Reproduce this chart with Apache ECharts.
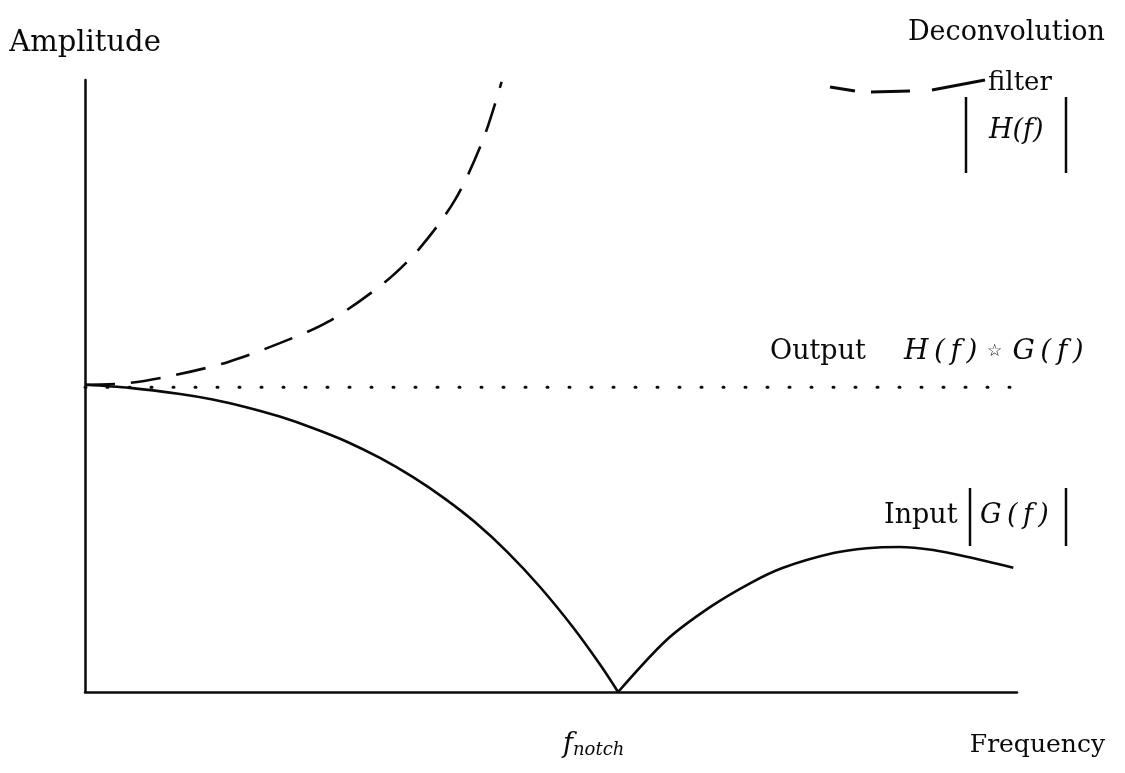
<!DOCTYPE html>
<html lang="en">
<head>
<meta charset="UTF-8">
<title>Deconvolution</title>
<script src="https://cdn.jsdelivr.net/npm/echarts@6.0.0/dist/echarts.min.js"></script>
<style>
  html, body { margin: 0; padding: 0; background: #fff; }
  #chart { width: 1125px; height: 773px; }
</style>
</head>
<body>
<div id="chart"></div>
<script>
// input |G(f)| (solid line); the notch sits at index notchIdx
var inputFreq = [0, 4.8, 10.2, 13.7, 17.4, 20.9, 24.5, 28.1, 31.7, 35.2, 38.6, 41.8, 45.3, 48.8, 52.4, 55.3, 57.2,
                 62.4, 67.1, 71.4, 74.9, 80.3, 83.9, 87.4, 91.0, 94.6, 99.6];
var inputAmp  = [50.2, 49.7, 48.7, 47.8, 46.5, 45.0, 43.1, 40.9, 38.2, 35.1, 31.6, 27.8, 22.9, 17.2, 10.5, 4.4, 0,
                 8.5, 13.9, 17.8, 20.3, 22.7, 23.5, 23.7, 23.2, 22.1, 20.3];
var notchIdx = 16;
// deconvolution filter |H(f)| (dashed)
var filterFreq = [0, 4.8, 9.7, 15.3, 20.9, 26.1, 32.2, 35.9, 39.7, 42.7, 44.7];
var filterAmp  = [50.2, 50.5, 51.8, 53.9, 57.0, 60.5, 67.0, 72.5, 80.4, 90.2, 99.7];
// output H(f)*G(f) (dotted, flat)
var outputFreq = [0, 99.8];
var outputAmp  = [49.8, 49.8];

function pairs(xs, ys) {
  return xs.map(function (x, i) { return [x, ys[i]]; });
}

var serif = 'DejaVu Serif';
var ink = '#0a0a0a';
var fs = 27;
var ts = '\u2009'; // thin space, math italic is set wide in the original

var chart = echarts.init(document.getElementById('chart'));

var axisCommon = {
  type: 'value',
  min: 0,
  max: 100,
  axisLine: { show: true, lineStyle: { color: ink, width: 2.5 } },
  axisTick: { show: false },
  axisLabel: { show: false },
  splitLine: { show: false }
};

function bar(x, y1, y2) {
  return { type: 'line', shape: { x1: x, y1: y1, x2: x, y2: y2 },
           style: { stroke: ink, lineWidth: 2.5 } };
}
function txt(x, y, text, size, opts) {
  var s = { text: text, x: x, y: y, fill: ink, font: (opts && opts.italic ? 'italic ' : '') + size + 'px "' + serif + '"',
            textAlign: (opts && opts.align) || 'left', textVerticalAlign: 'middle' };
  return { type: 'text', style: s };
}
function wide(name) {
  return name + ts + '(' + ts + 'f' + ts + ')';
}

var inputLine = { color: ink, width: 2.6 };
var all = pairs(inputFreq, inputAmp);

chart.setOption({
  animation: false,
  backgroundColor: '#fff',
  grid: { left: 85, right: 108, top: 80, bottom: 81 },
  xAxis: axisCommon,
  yAxis: Object.assign({}, axisCommon, {
    name: 'Amplitude',
    nameLocation: 'end',
    nameGap: 22,
    nameTextStyle: { color: ink, fontFamily: serif, fontSize: 29, align: 'center' }
  }),
  series: [
    {
      name: 'Input',
      type: 'line',
      data: all.slice(0, notchIdx + 1),
      showSymbol: false,
      smooth: 0.3,
      lineStyle: inputLine
    },
    {
      name: 'Input',
      type: 'line',
      data: all.slice(notchIdx),
      showSymbol: false,
      smooth: 0.3,
      lineStyle: inputLine
    },
    {
      name: 'Deconvolution filter',
      type: 'line',
      data: pairs(filterFreq, filterAmp),
      showSymbol: false,
      smooth: 0.3,
      lineStyle: { color: ink, width: 2.6, type: [30, 16] }
    },
    {
      name: 'Output',
      type: 'line',
      data: pairs(outputFreq, outputAmp),
      showSymbol: false,
      lineStyle: { color: ink, width: 3, type: [1, 21], cap: 'round' }
    }
  ],
  graphic: [
    txt(1105, 33, 'Deconvolution', fs, { align: 'right' }),
    { type: 'polyline', shape: { points: [[830, 87], [855, 91]] }, style: { stroke: ink, lineWidth: 3 } },
    { type: 'polyline', shape: { points: [[871, 92], [910, 91]] }, style: { stroke: ink, lineWidth: 3 } },
    { type: 'polyline', shape: { points: [[932, 90], [985, 80]] }, style: { stroke: ink, lineWidth: 3 } },
    txt(988, 83, 'filter', 26),
    bar(966, 97, 173),
    bar(1066, 97, 173),
    txt(989, 131, 'H(f)', fs, { italic: true }),
    txt(770, 352, 'Output', fs),
    {
      type: 'text',
      style: {
        x: 904, y: 352, textVerticalAlign: 'middle',
        text: '{m|' + wide('H') + '}{o|\u2606}{m|' + wide('G') + '}',
        rich: {
          m: { fontFamily: serif, fontStyle: 'italic', fontSize: 28, fill: ink },
          o: { fontFamily: serif, fontSize: 17, fill: ink, padding: [0, 10, 0, 10] }
        }
      }
    },
    txt(884, 516, 'Input', fs),
    bar(970, 488, 546),
    bar(1066, 488, 546),
    txt(980, 516, wide('G'), fs, { italic: true }),
    {
      type: 'text',
      style: {
        x: 563, y: 745, textVerticalAlign: 'middle',
        text: '{f|f}{s|notch}',
        rich: {
          f: { fontFamily: serif, fontStyle: 'italic', fontSize: 27, fill: ink },
          s: { fontFamily: serif, fontStyle: 'italic', fontSize: 18, fill: ink, padding: [10, 0, 0, 0] }
        }
      }
    },
    txt(1105, 745, 'Frequency', 25, { align: 'right' })
  ]
});
</script>
</body>
</html>
